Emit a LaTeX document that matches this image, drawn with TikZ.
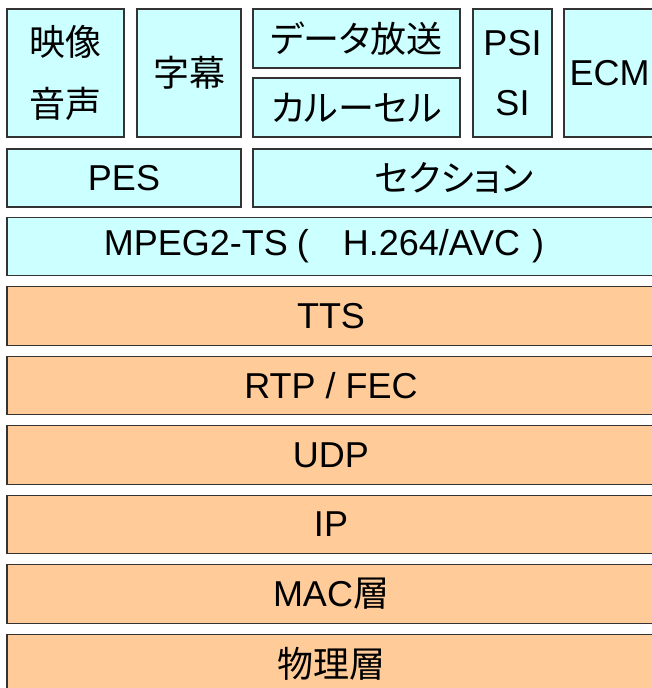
\documentclass[tikz,border=0pt]{standalone}
\usepackage{fontspec}
\setmainfont{Liberation Sans}
\newfontfamily\jp[RawFeature=+palt]{Noto Sans CJK JP}
\definecolor{cy}{HTML}{CCFFFF}
\definecolor{og}{HTML}{FFCC99}
\definecolor{bd}{HTML}{333333}
\begin{document}
\begin{tikzpicture}[x=1pt,y=-1pt,
  box/.style={draw=bd, line width=1.3pt, inner sep=0pt, align=center,
    font=\fontsize{36}{62}\selectfont},
  cyanbox/.style={box, fill=cy},
  orangebox/.style={box, fill=og},
  jptext/.style={font=\fontsize{36}{62}\selectfont\jp},
  layer/.style={minimum width=648pt, minimum height=58.5pt}]
\useasboundingbox (0,0) rectangle (652,688);
\clip (0,0) rectangle (652,688);
% top row
\node[cyanbox, jptext, minimum width=117pt, minimum height=128pt] (av) at (65.5,73) {映像\\音声};
\node[cyanbox, jptext, minimum width=104pt, minimum height=128pt] (sub) at (189,73) {字幕};
\node[cyanbox, jptext, minimum width=207pt, minimum height=59pt] (data) at (356.5,38.5) {データ放送};
\node[cyanbox, jptext, minimum width=207pt, minimum height=59pt] (car) at (356.5,107.5) {カルーセル};
\node[cyanbox, font=\fontsize{36}{60}\selectfont, minimum width=79pt, minimum height=128pt] (psi) at (512.5,73) {PSI\\SI};
\node[cyanbox, minimum width=91pt, minimum height=128pt] (ecm) at (609.5,73) {ECM};
% second row
\node[cyanbox, minimum width=234pt, minimum height=58pt] (pes) at (124,178) {PES};
\node[cyanbox, jptext, minimum width=402pt, minimum height=58pt] (sec) at (454,178) {セクション};
% layers
\node[cyanbox, layer] (mpeg) at (331,246.5) {MPEG2-TS\hspace{9pt}(\hspace{34pt}H.264/AVC\hspace{12pt})\hspace{14pt}};
\node[orangebox, layer] (tts) at (331,316) {TTS};
\node[orangebox, layer] (rtp) at (331,385.5) {RTP / FEC};
\node[orangebox, layer] (udp) at (331,455) {UDP};
\node[orangebox, layer] (ip) at (331,524.5) {IP};
\node[orangebox, layer] (mac) at (331,594) {MAC{\jp 層}};
\node[orangebox, layer, jptext] (phy) at (331,663.5) {物理層};
\end{tikzpicture}
\end{document}
